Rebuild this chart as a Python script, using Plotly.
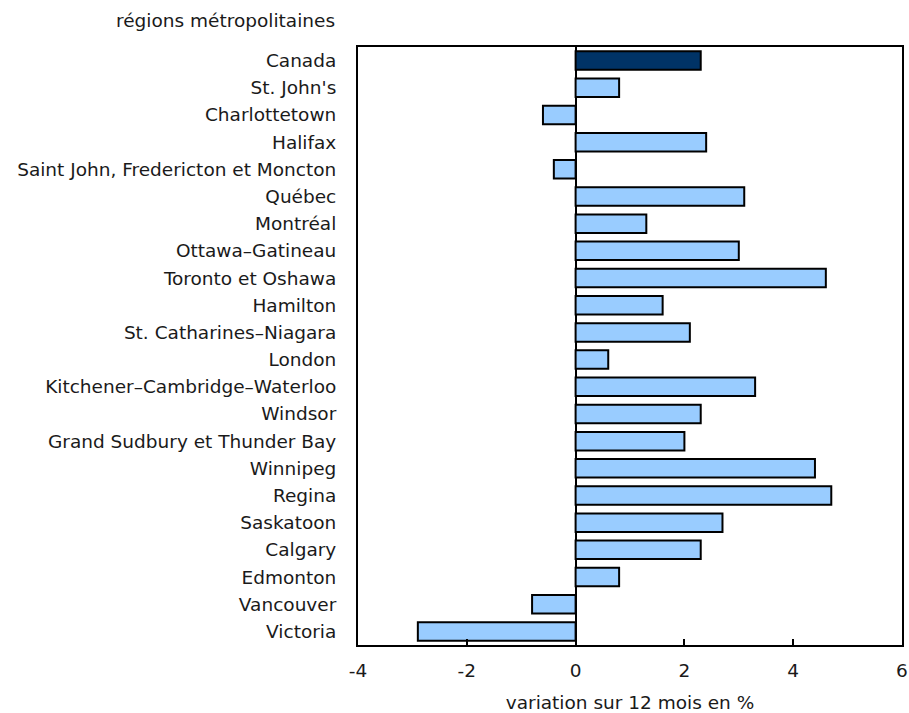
import plotly.graph_objects as go

regions = ["Canada", "St. John's", "Charlottetown", "Halifax",
           "Saint John, Fredericton et Moncton", "Québec", "Montréal",
           "Ottawa–Gatineau", "Toronto et Oshawa", "Hamilton",
           "St. Catharines–Niagara", "London", "Kitchener–Cambridge–Waterloo",
           "Windsor", "Grand Sudbury et Thunder Bay", "Winnipeg", "Regina",
           "Saskatoon", "Calgary", "Edmonton", "Vancouver", "Victoria"]
values = [2.3, 0.8, -0.6, 2.4, -0.4, 3.1, 1.3, 3.0, 4.6, 1.6, 2.1, 0.6,
          3.3, 2.3, 2.0, 4.4, 4.7, 2.7, 2.3, 0.8, -0.8, -2.9]
x_ticks = [-4, -2, 0, 2, 4, 6]

colors = ["#003366" if r == "Canada" else "#99CCFF" for r in regions]

fig = go.Figure(go.Bar(
    y=regions, x=values, orientation="h",
    marker=dict(color=colors, line=dict(color="black", width=2)),
    width=0.68,
))

FONT = "DejaVu Sans, Arial, sans-serif"
FS = 18.5
fig.update_layout(
    width=909, height=713,
    margin=dict(l=358, r=7, t=47, b=68, autoexpand=False),
    paper_bgcolor="white", plot_bgcolor="white",
    font=dict(family=FONT, size=FS, color="#1a1a1a"),
    showlegend=False,
    xaxis=dict(range=[-4, 6], tickvals=x_ticks, ticktext=[str(t) for t in x_ticks],
               showgrid=False, zeroline=True, zerolinecolor="black", zerolinewidth=2,
               showline=True, linecolor="black", linewidth=2, mirror=True,
               ticks="inside", ticklen=6, tickwidth=2, tickcolor="black",
               ticklabelstandoff=8,
               automargin=False, tickfont=dict(size=FS),
               title=dict(text="variation sur 12 mois en %", standoff=21,
                          font=dict(size=FS))),
    yaxis=dict(autorange="reversed", showgrid=False, showline=True, linecolor="black",
               linewidth=2, mirror=True, ticks="", ticklabelstandoff=16,
               automargin=False, tickfont=dict(size=FS)),
    annotations=[dict(text="régions métropolitaines", xref="paper", yref="paper",
                      x=-0.038, y=1.0, xanchor="right", yanchor="bottom",
                      yshift=14, showarrow=False, font=dict(size=FS))],
)

# remove the default page margin so the 909x713 figure fills the window exactly
fig.write_html("out.html",
               config={"displayModeBar": False},
               post_script="document.body.style.margin='0';document.body.style.overflow='hidden';")
